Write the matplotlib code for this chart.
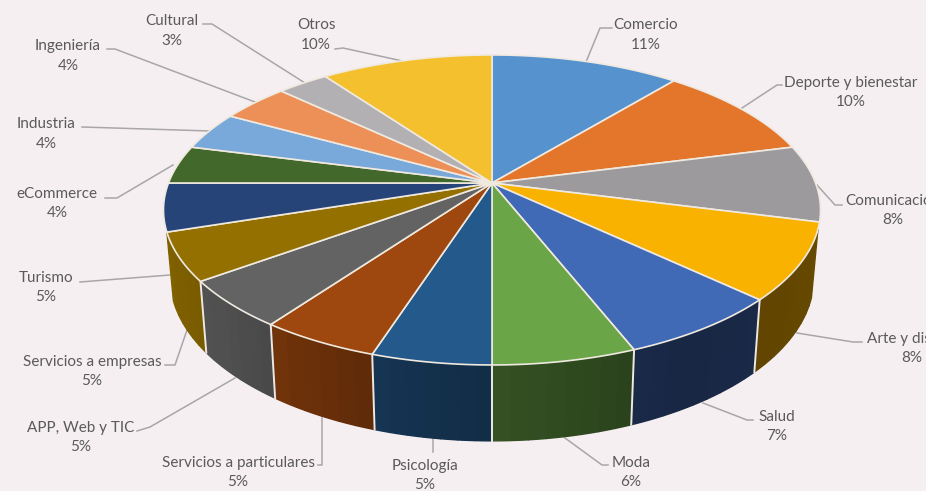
import numpy as np
import matplotlib
matplotlib.use('Agg')
import matplotlib.pyplot as plt

categories = ['Comercio', 'Deporte y bienestar', 'Comunicación', 'Arte y diseño', 'Salud', 'Moda',
              'Psicología', 'Servicios a particulares', 'APP, Web y TIC', 'Servicios a empresas',
              'Turismo', 'eCommerce', 'Industria', 'Ingeniería', 'Cultural', 'Otros']
values = [11, 10, 8, 8, 7, 6, 5, 5, 5, 5, 5, 4, 4, 4, 3, 10]

colors = ['#5692CE', '#E4762C', '#9C9A9C', '#F9B200', '#4069B6', '#6AA547', '#24598C', '#9E470E',
          '#636363', '#947000', '#264478', '#43682B', '#78A9DA', '#EC9057', '#B2B0B2', '#F4C02E']

# label centre x, first line y, second line y
label_pos = [(646, 25, 45), (851, 83, 102), (893, 201, 220), (912, 339, 358),
             (777, 417, 436), (631, 463, 482), (425, 466, 485), (238, 463, 482),
             (81, 428, 447), (92, 362, 381), (46, 278, 297), (57, 194, 213),
             (46, 124, 144), (68, 46, 66), (172, 21, 41), (316, 25, 45)]

leaders = [[(586, 62), (600, 28), (612, 28)],
           [(742, 108), (777, 85), (782, 85)],
           [(817, 185), (835, 205), (842, 205)],
           [(797, 333), (853, 342), (862, 342)],
           [(703, 403), (747, 420), (753, 420)],
           [(565, 438), (602, 465), (608, 465)],
           [(433, 439), (433, 452)],
           [(322, 418), (322, 465), (318, 465)],
           [(235, 378), (150, 427), (137, 431)],
           [(187, 330), (175, 365), (165, 365)],
           [(170, 275), (80, 282)],
           [(173, 165), (117, 198), (105, 198)],
           [(82, 127), (210, 131)],
           [(107, 49), (115, 49), (255, 102)],
           [(203, 24), (212, 24), (305, 83)],
           [(335, 49), (343, 48), (407, 62)]]

# perspective of the pie, in pixels
cx, cy = 492, 183
A, B, k = 323.5, 150.3, 0.174
depth, shrink = 65.7, 0.98
wall_from, wall_to = np.radians(107), np.radians(252)  # where the wall meets the silhouette
bg = '#F6EFF2'


def top_rim(a):
    x, y = np.sin(a), np.cos(a)
    w = 1 + k * y
    return cx + A * x / w, cy - B * y / w


def bottom_rim(a):
    x, y = np.sin(a), np.cos(a)
    w = 1 + k * y
    return cx + A * shrink * x / w, cy + (depth - B * shrink * y) / w


def shade(color, deg):
    # walls get darker towards the front right
    f = np.interp(deg, [100, 150, 180, 200, 225, 270], [0.42, 0.37, 0.5, 0.62, 0.8, 0.92])
    return tuple(c * f for c in matplotlib.colors.to_rgb(color))


plt.rcParams['font.family'] = ['Lato', 'DejaVu Sans']

fig = plt.figure(figsize=(9.26, 4.91), dpi=100, facecolor=bg)
ax = fig.add_axes([0, 0, 1, 1])
ax.set_xlim(0, 926)
ax.set_ylim(491, 0)
ax.axis('off')

edges = np.cumsum([0] + values) / sum(values) * 2 * np.pi

# leader lines first, the pie covers their ends
for path in leaders:
    ax.plot([p[0] for p in path], [p[1] for p in path], color='#A8A6A8', lw=1.1, zorder=1)

# side wall
for i in range(len(values)):
    start = max(edges[i], wall_from)
    end = min(edges[i + 1], wall_to)
    if end <= start:
        continue
    steps = np.linspace(start, end, int(np.degrees(end - start)) // 3 + 2)
    for a0, a1 in zip(steps[:-1], steps[1:]):
        tx, ty = top_rim(np.linspace(a0, a1, 6))
        bx, by = bottom_rim(np.linspace(a1, a0, 6))
        col = shade(colors[i], np.degrees(a0))
        ax.fill(np.r_[tx, bx], np.r_[ty, by], facecolor=col, edgecolor=col, lw=1.0, zorder=2)

for a in edges:
    if wall_from < a < wall_to - 0.01:
        tx, ty = top_rim(a)
        bx, by = bottom_rim(a)
        ax.plot([tx, bx], [ty, by], color='#EDE8E4', lw=1.4, zorder=3)

# top face
for i in range(len(values)):
    a = np.linspace(edges[i], edges[i + 1], 60)
    x, y = top_rim(a)
    ax.fill(np.r_[cx, x], np.r_[cy, y], facecolor=colors[i], edgecolor='#EFE9E0', lw=1.2,
            joinstyle='round', zorder=4)

# labels
for i in range(len(values)):
    lx, y1, y2 = label_pos[i]
    ax.text(lx, y1, categories[i], ha='center', va='center', fontsize=11, color='#5A5A5A', zorder=5)
    ax.text(lx, y2, '%d%%' % values[i], ha='center', va='center', fontsize=11, color='#5A5A5A', zorder=5)

plt.savefig('out.png', dpi=100, facecolor=bg)
plt.close()
